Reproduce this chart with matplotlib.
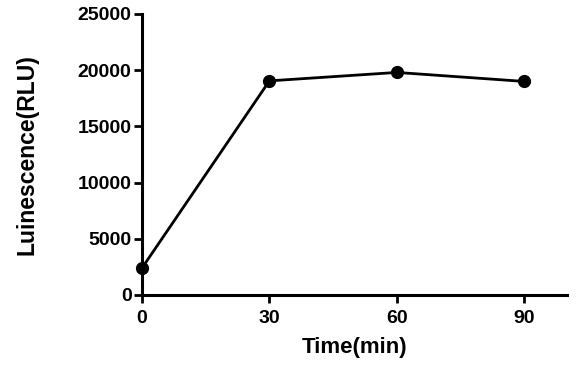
import matplotlib
matplotlib.use("Agg")
import matplotlib.pyplot as plt

time_min = [0, 30, 60, 90]
luminescence = [2400, 19050, 19800, 19000]
x_ticks = [0, 30, 60, 90]
y_ticks = [0, 5000, 10000, 15000, 20000, 25000]

plt.rcParams['font.family'] = ['Liberation Sans', 'DejaVu Sans']
plt.rcParams['font.weight'] = 'bold'

fig = plt.figure(figsize=(5.87, 3.72), dpi=100)
ax = fig.add_axes([0.2419, 0.207, 0.7235, 0.7554])
ax.plot(time_min, luminescence, color='black', lw=2, marker='o', ms=8.5,
        clip_on=False, zorder=3)
ax.set_xlim(0, 100)
ax.set_ylim(0, 25000)
ax.set_xticks(x_ticks)
ax.set_yticks(y_ticks)
for s in ['top', 'right']:
    ax.spines[s].set_visible(False)
for s in ['left', 'bottom']:
    ax.spines[s].set_linewidth(2.2)
ax.tick_params(axis='both', width=2, length=6, labelsize=14)
ax.tick_params(axis='y', pad=1.5)
ax.tick_params(axis='x', pad=5)
for lab in ax.get_xticklabels() + ax.get_yticklabels():
    lab.set_fontweight('bold')
ax.set_xlabel('Time(min)', fontsize=16, fontweight='bold', labelpad=7)
ax.set_ylabel('Luinescence(RLU)', fontsize=16.5, fontweight='bold', labelpad=28)
fig.savefig('out.png', dpi=100)
